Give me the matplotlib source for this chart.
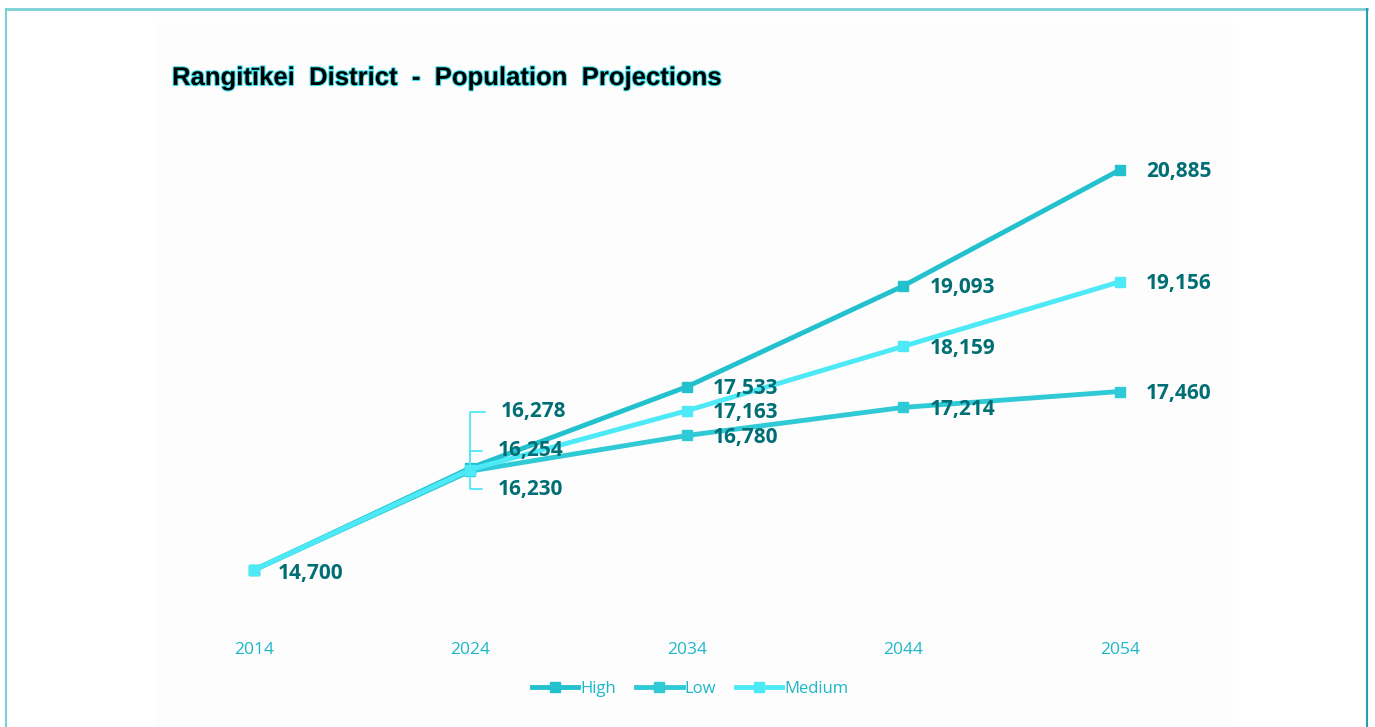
import matplotlib
matplotlib.use('Agg')
import matplotlib.pyplot as plt
import matplotlib.patheffects as pe
from matplotlib.lines import Line2D
from matplotlib.patches import Rectangle

# data
years = ['2014', '2024', '2034', '2044', '2054']
high = [14700, 16278, 17533, 19093, 20885]
low = [14700, 16230, 16780, 17214, 17460]
medium = [14700, 16254, 17163, 18159, 19156]

c_high = '#22C1CD'
c_low = '#30CAD6'
c_med = '#4EE9F6'
c_lab = '#006E75'
c_tick = '#1CB7C8'

W, H = 1375, 727
fig = plt.figure(figsize=(W / 100, H / 100), dpi=100)
fig.patch.set_facecolor('white')

# faint plot-area background and outer border
fig.add_artist(Rectangle((155 / W, 0), (1233 - 155) / W, 1 - 23 / H,
                         transform=fig.transFigure, facecolor='#FDFDFD',
                         edgecolor='none', zorder=0))
fig.add_artist(Line2D([6 / W, 1367 / W], [1 - 9 / H, 1 - 9 / H],
                      transform=fig.transFigure, color='#7ACFD4', lw=2))
fig.add_artist(Line2D([6 / W, 6 / W], [0, 1 - 9 / H],
                      transform=fig.transFigure, color='#7ACFD4', lw=1.5))
fig.add_artist(Line2D([1367 / W, 1367 / W], [0, 1 - 9 / H],
                      transform=fig.transFigure, color='#2A9DB3', lw=1.5))

ax = fig.add_axes([155 / W, (H - 625) / H, (1215 - 155) / W, 495 / H])
ax.set_facecolor('none')
x = list(range(len(years)))

ax.plot(x, high, color=c_high, lw=3.5, marker='s', ms=7, label='High', zorder=3)
ax.plot(x, low, color=c_low, lw=3.5, marker='s', ms=7, label='Low', zorder=3)
ax.plot(x, medium, color=c_med, lw=3.5, marker='s', ms=7, label='Medium', zorder=3)

ax.set_xlim(-0.457, 4.44)
ax.set_ylim(13850, 21503)
ax.set_xticks(x)
ax.set_xticklabels(years)
ax.set_yticks([])
ax.tick_params(axis='x', length=0, pad=12, labelsize=12.5, labelcolor=c_tick)
for lbl in ax.get_xticklabels():
    lbl.set_fontfamily('Open Sans')
for s in ax.spines.values():
    s.set_visible(False)

lab_kw = dict(textcoords='offset pixels', fontsize=15, fontweight='bold',
              family='Open Sans', color=c_lab, va='center', ha='left', zorder=5)


def fmt(v):
    return f'{v:,}'


# 2014 label (shared point)
ax.annotate(fmt(medium[0]), (0, medium[0]), xytext=(24, -3), **lab_kw)

# 2024 labels with leader lines
lead = dict(arrowstyle='-', color=c_med, lw=1.3, shrinkA=9, shrinkB=0,
            connectionstyle='angle,angleA=0,angleB=90,rad=0')
ax.annotate(fmt(high[1]), (1, high[1]), xytext=(30, 56), arrowprops=lead, **lab_kw)
ax.annotate(fmt(medium[1]), (1, medium[1]), xytext=(27, 19), arrowprops=lead, **lab_kw)
ax.annotate(fmt(low[1]), (1, low[1]), xytext=(27, -18), arrowprops=lead, **lab_kw)

# remaining labels
for i in range(2, 5):
    for series in (high, medium, low):
        ax.annotate(fmt(series[i]), (i, series[i]), xytext=(26, -2), **lab_kw)

fig.text(172 / W, 1 - 78 / H, 'Rangitīkei  District  -  Population  Projections',
         fontsize=18.5, fontweight='bold', family='Liberation Sans', color='black',
         va='center', ha='left',
         path_effects=[pe.withStroke(linewidth=1.6, foreground='#3FE3EE')])

leg = fig.legend(loc='center', bbox_to_anchor=(690 / W, 1 - 689 / H), ncol=3,
                 frameon=False, handlelength=2.8, handletextpad=0.1,
                 columnspacing=1.2, prop={'family': 'Open Sans', 'size': 12})
for t in leg.get_texts():
    t.set_color(c_tick)

fig.savefig('out.png', dpi=100)
